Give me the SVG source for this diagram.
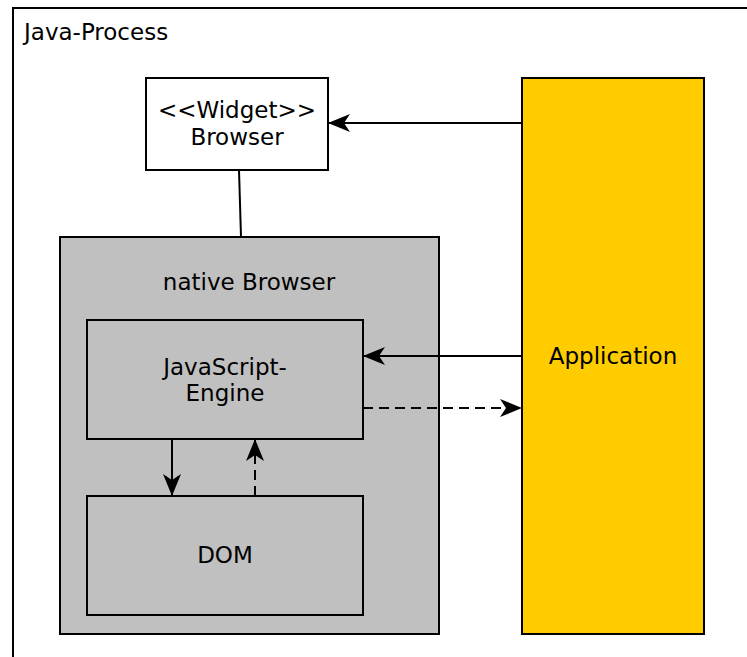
<svg xmlns="http://www.w3.org/2000/svg" width="747" height="657" viewBox="0 0 747 657">
  <style>
    text { font-family: "DejaVu Sans", sans-serif; font-size: 23px; fill: #000; text-anchor: middle; dominant-baseline: central; }
    .box { stroke: #000; stroke-width: 2; }
    .edge { fill: none; stroke: #000; stroke-width: 2; }
    .dash { stroke-dasharray: 10 6; }
  </style>
  <defs>
    <marker id="arrow" viewBox="0 0 22 18" refX="21" refY="9" markerWidth="22" markerHeight="18" markerUnits="userSpaceOnUse" orient="auto">
      <path d="M0,0 L22,9 L0,18 L6,9 Z" fill="#000"/>
    </marker>
  </defs>

  <!-- process frame, open to the right and bottom -->
  <g id="java-process">
    <rect x="13" y="8" width="760" height="680" fill="#fff" class="box"/>
    <text x="24" y="32" style="text-anchor:start">Java-Process</text>
  </g>

  <g id="widget-browser">
    <rect x="146" y="78" width="182" height="92" fill="#fff" class="box"/>
    <text x="237" y="110">&lt;&lt;Widget&gt;&gt;</text>
    <text x="237" y="137">Browser</text>
  </g>

  <g id="application">
    <rect x="522" y="78" width="182" height="556" fill="#ffcc00" class="box"/>
    <text x="613" y="356">Application</text>
  </g>

  <g id="native-browser">
    <rect x="60" y="237" width="379" height="397" fill="#c0c0c0" class="box"/>
    <text x="249" y="282">native Browser</text>
  </g>

  <g id="javascript-engine">
    <rect x="87" y="320" width="276" height="119" fill="#c0c0c0" class="box"/>
    <text x="225" y="367">JavaScript-</text>
    <text x="225" y="393">Engine</text>
  </g>

  <g id="dom">
    <rect x="87" y="496" width="276" height="119" fill="#c0c0c0" class="box"/>
    <text x="225" y="555">DOM</text>
  </g>

  <g id="connectors">
    <line x1="522" y1="123" x2="329" y2="123" class="edge" marker-end="url(#arrow)"/>
    <line x1="239" y1="170" x2="241" y2="237" class="edge"/>
    <line x1="522" y1="356" x2="364" y2="356" class="edge" marker-end="url(#arrow)"/>
    <line x1="363" y1="408" x2="521" y2="408" class="edge dash" marker-end="url(#arrow)"/>
    <line x1="172" y1="439" x2="172" y2="495" class="edge" marker-end="url(#arrow)"/>
    <line x1="255" y1="496" x2="255" y2="440" class="edge dash" marker-end="url(#arrow)"/>
  </g>
</svg>
